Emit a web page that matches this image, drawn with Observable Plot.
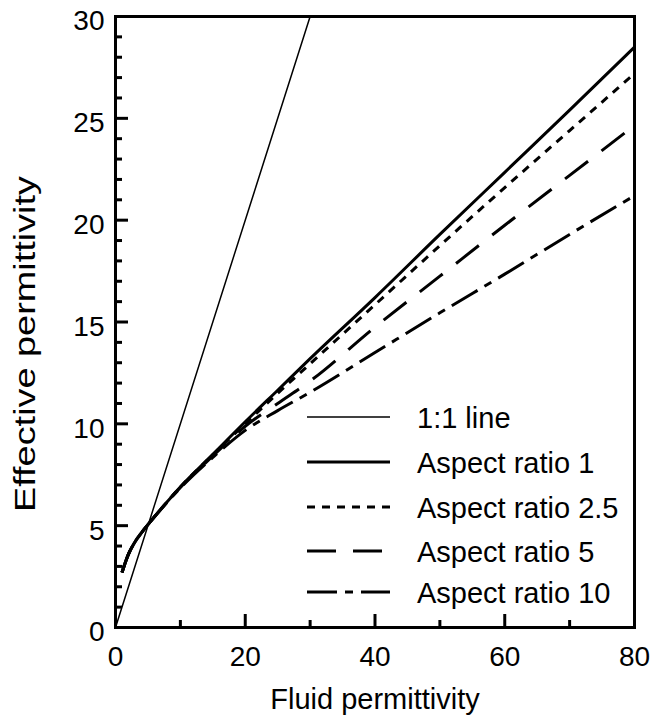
<!DOCTYPE html>
<html>
<head>
<meta charset="utf-8">
<script src="https://cdn.jsdelivr.net/npm/d3@7"></script>
<script src="https://cdn.jsdelivr.net/npm/@observablehq/plot@0.6"></script>
<style>
  body { margin: 0; background: #fff; }
  #wrap { position: relative; width: 666px; height: 715px; }
  #legend { position: absolute; left: 0; top: 0; pointer-events: none; }
</style>
</head>
<body>
<div id="wrap"></div>
<script>
// ---- data ----
const fluid = [1, 2, 3, 4, 5, 7.5, 10, 15, 20, 25, 30, 40, 50, 60, 70, 80];
const aspect1   = [2.7, 3.6, 4.2, 4.65, 5.05, 6.0, 6.9, 8.5, 10.1, 11.65, 13.2, 16.2, 19.3, 22.35, 25.4, 28.5];
const aspect2_5 = [2.7, 3.6, 4.2, 4.65, 5.05, 6.0, 6.9, 8.48, 10.0, 11.5, 12.95, 15.85, 18.75, 21.6, 24.4, 27.2];
const aspect5   = [2.7, 3.6, 4.2, 4.65, 5.05, 6.0, 6.88, 8.42, 9.88, 11.0, 12.1, 14.75, 17.25, 19.75, 22.2, 24.65];
const aspect10  = [2.7, 3.6, 4.2, 4.65, 5.05, 5.98, 6.85, 8.35, 9.68, 10.65, 11.55, 13.5, 15.45, 17.35, 19.3, 21.2];
const oneX = [0, 30];
const oneY = [0, 30];

const seriesNames = ["1:1 line", "Aspect ratio 1", "Aspect ratio 2.5", "Aspect ratio 5", "Aspect ratio 10"];
const xMajor = [0, 20, 40, 60, 80];
const xMinor = [10, 30, 50, 70];
const yMajor = [0, 5, 10, 15, 20, 25, 30];
const yMinor = [1,2,3,4,6,7,8,9,11,12,13,14,16,17,18,19,21,22,23,24,26,27,28,29];
const xTitle = "Fluid permittivity";
const yTitle = "Effective permittivity";

// ---- styles ----
const dashes = ["none", "none", "8,7", "29,17", "30,8,8,8"];
const widths = [1.5, 3, 3, 3, 3];
const legendRowY = [417, 462, 507, 551, 592];

const W = 666, H = 715;
const mL = 115, mR = 32, mT = 16, mB = 88;
const plotW = W - mL - mR, plotH = H - mT - mB;
const FONT = "'Liberation Sans', Arial, Helvetica, sans-serif";

const curves = [aspect1, aspect2_5, aspect5, aspect10];
const idx = fluid.map((_, i) => i);

const chart = Plot.plot({
  width: W, height: H,
  marginLeft: mL, marginRight: mR, marginTop: mT, marginBottom: mB,
  x: { domain: [0, 80] },
  y: { domain: [0, 30] },
  style: { fontFamily: FONT, fontSize: "28px", color: "black", background: "white" },
  marks: [
    Plot.line(oneX.map((_, i) => i), { x: i => oneX[i], y: i => oneY[i], stroke: "black", strokeWidth: widths[0], clip: true }),
    ...curves.map((c, k) => Plot.line(idx, {
      x: i => fluid[i], y: i => c[i],
      stroke: "black", strokeWidth: widths[k + 1],
      strokeDasharray: dashes[k + 1] === "none" ? undefined : dashes[k + 1],
      strokeLinecap: "butt", curve: "monotone-x", clip: true
    })),
    // inward ticks
    Plot.tickX(xMajor, { x: d => d, stroke: "black", strokeWidth: 3, insetTop: plotH - 13 }),
    Plot.tickX(xMinor, { x: d => d, stroke: "black", strokeWidth: 3, insetTop: plotH - 7 }),
    Plot.tickY(yMajor, { y: d => d, stroke: "black", strokeWidth: 3, insetRight: plotW - 13 }),
    Plot.tickY(yMinor, { y: d => d, stroke: "black", strokeWidth: 3, insetRight: plotW - 7 }),
    Plot.axisX(xMajor, { tickSize: 0, tickPadding: 19, fontSize: 28, label: null }),
    Plot.axisY(yMajor, { tickSize: 0, tickPadding: 11, dy: 5, fontSize: 28, label: null }),
    Plot.frame({ stroke: "black", strokeWidth: 3 }),
    Plot.text([xTitle], { text: d => d, frameAnchor: "bottom", dy: 81, lineAnchor: "bottom", fontSize: 29 }),
    Plot.text([yTitle], { text: d => d, frameAnchor: "left", dx: -81, dy: 190, rotate: -90, textAnchor: "start", lineAnchor: "bottom", fontSize: 30 })
  ]
});

document.getElementById("wrap").appendChild(chart);

// stretch y title to the reference length
d3.select(chart).selectAll("text").filter(function () { return this.textContent === yTitle; })
  .attr("textLength", 336).attr("lengthAdjust", "spacingAndGlyphs");

// legend overlay
const leg = d3.select("#wrap").append("svg").attr("id", "legend").attr("width", W).attr("height", H);
seriesNames.forEach((name, i) => {
  const y = legendRowY[i];
  leg.append("line").attr("x1", 307).attr("x2", 390).attr("y1", y).attr("y2", y)
    .attr("stroke", "black").attr("stroke-width", widths[i])
    .attr("stroke-dasharray", dashes[i] === "none" ? null : dashes[i]);
  leg.append("text").attr("x", 417).attr("y", y + 10.5)
    .attr("font-family", FONT).attr("font-size", 29).attr("fill", "black").text(name);
});
</script>
</body>
</html>
